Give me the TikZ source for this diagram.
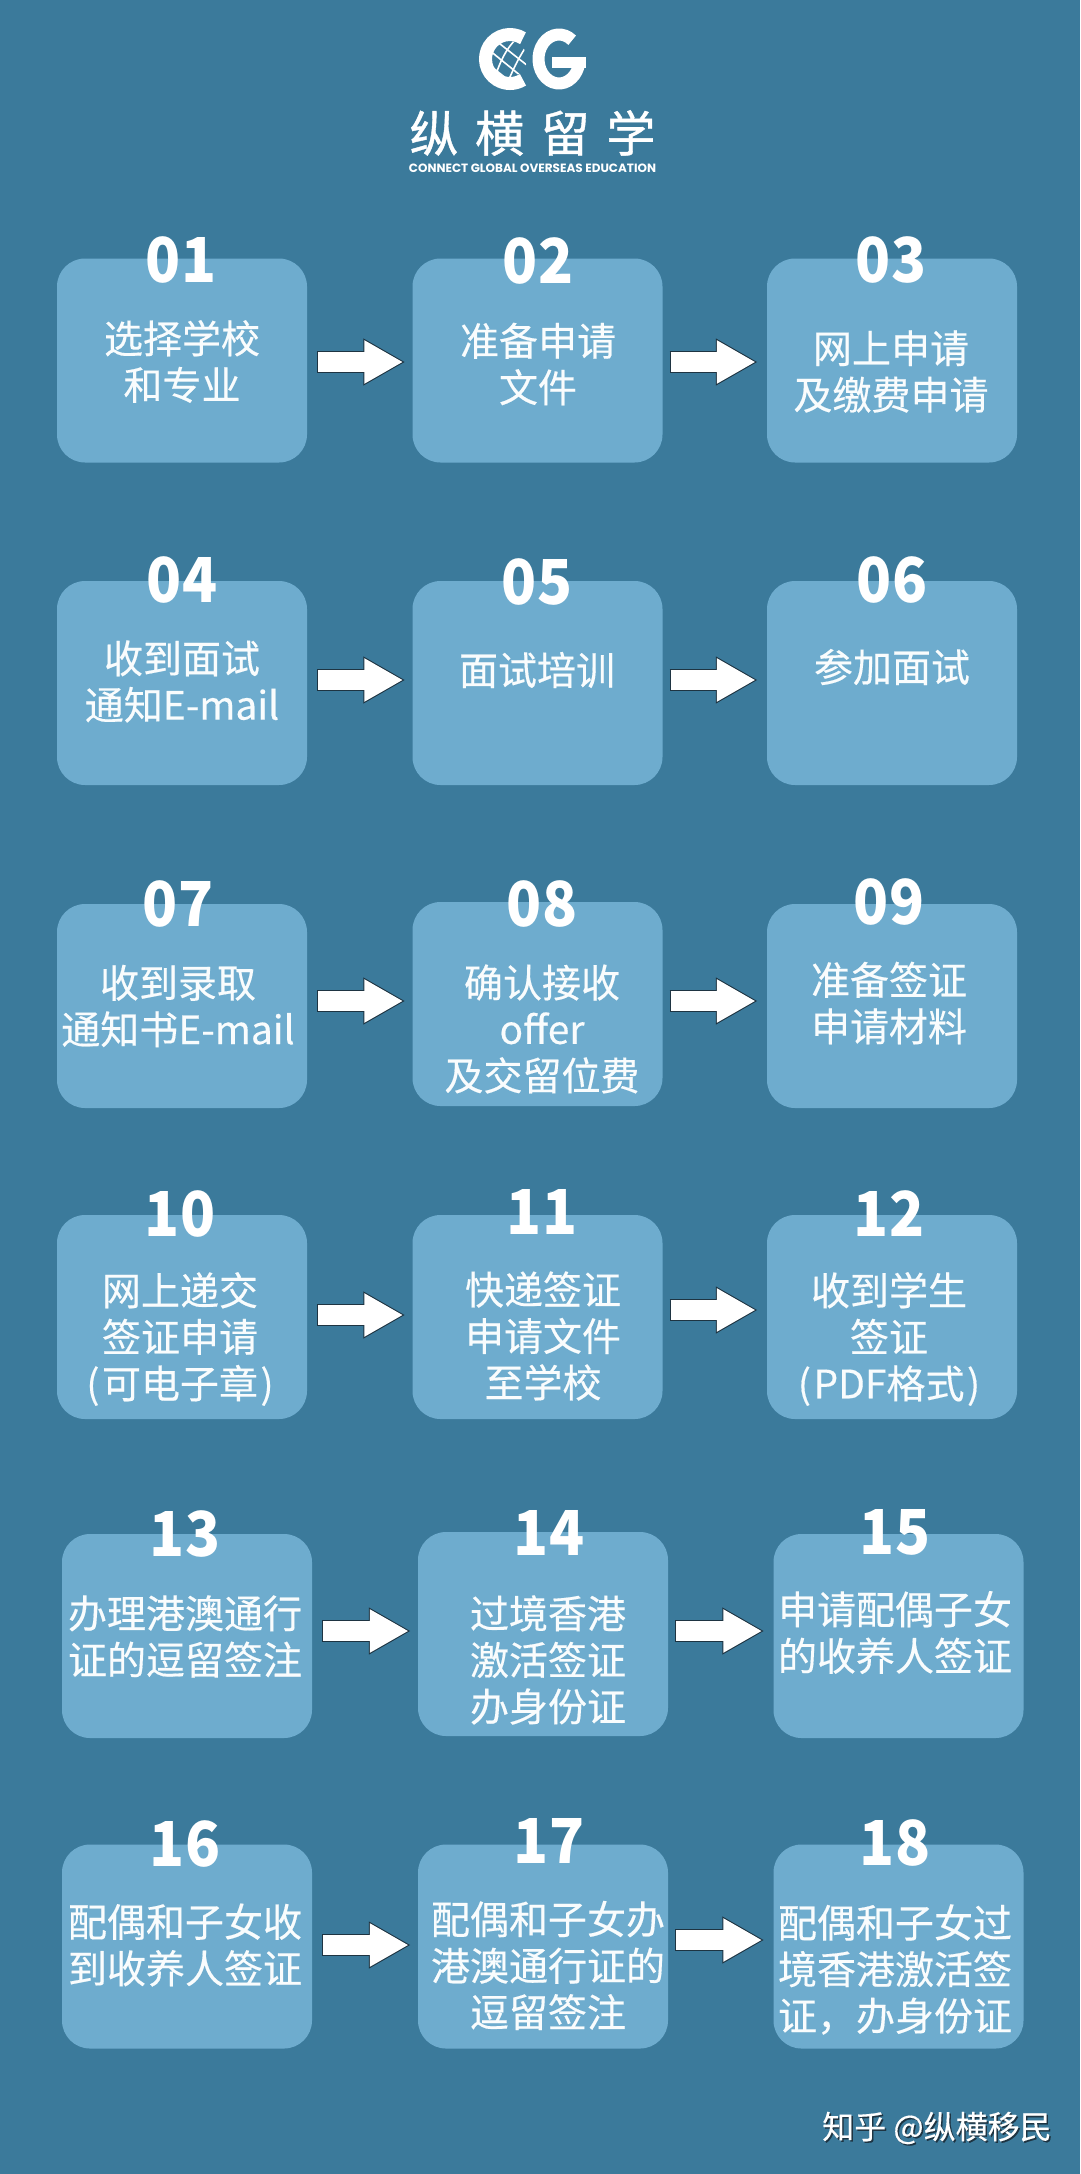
\documentclass[tikz,border=0pt]{standalone}
\usepackage{fontspec}
\usepackage{tikz}
\usetikzlibrary{arrows.meta}
\setmainfont{Noto Sans CJK SC}
\newfontfamily\latinfont{Poppins}
\newfontfamily\medfont[FakeBold=0.35]{Noto Sans CJK SC}
\newfontfamily\brandfont[FakeBold=0.8, LetterSpace=34]{Noto Sans CJK SC}
\definecolor{bgblue}{HTML}{3B7A9B}
\definecolor{boxblue}{HTML}{6EACCE}
\definecolor{arrowink}{HTML}{1E3442}
\begin{document}
\begin{tikzpicture}[x=1pt, y=-1pt]

\tikzstyle{every node} = [inner sep=0pt, text=white]
\tikzstyle{box} = [rectangle, fill=boxblue, rounded corners=28pt, minimum width=250pt, minimum height=204pt]
\tikzstyle{num} = [font=\fontsize{62}{62}\selectfont\bfseries\addfontfeature{FakeStretch=0.93}]
\tikzstyle{txt} = [align=center, text=white!96!boxblue, font=\medfont\fontsize{39}{46.5}\selectfont]
\tikzstyle{flow} = [draw=arrowink, line width=22pt, -{Triangle[length=42pt, width=44pt]}]
\tikzstyle{flowa} = [flow, shorten <=10pt, shorten >=7pt, postaction={draw=white, line width=20pt, shorten <=11pt, shorten >=9.2pt, -{Triangle[length=38.8pt, width=40.6pt]}}]
\tikzstyle{flowb} = [flow, shorten <=7pt, shorten >=9pt, postaction={draw=white, line width=20pt, shorten <=8pt, shorten >=11.2pt, -{Triangle[length=38.8pt, width=40.6pt]}}]

\fill[bgblue] (0,0) rectangle (1080,2174);
\useasboundingbox (0,0) rectangle (1080,2174);

\draw[white, line width=13pt] ([shift={(58:24.5pt)}]510,59) arc[start angle=58, end angle=302, radius=24.5pt];
\begin{scope}
\clip (509,59) circle[radius=18pt];
\draw[white, line width=1.6pt] (495,40) -- (528,66) (489,50) -- (521,76) (487,63) -- (513,84);
\draw[white, line width=1.6pt] (517,38) .. controls (505,50) and (500,62) .. (494,80) (528,44) .. controls (518,58) and (512,72) .. (507,84);
\end{scope}
\draw[white, line width=12pt] ([shift={(50:20.5pt and 24.5pt)}]559,59) arc[start angle=50, end angle=358, x radius=20.5pt, y radius=24.5pt];
\fill[white] (552,57) rectangle (585.5,68);

\node (brand) at (532.5,133) {\brandfont\fontsize{49}{49}\selectfont 纵横留学};
\node (slogan) at (532.5,168) {\latinfont\fontsize{12}{13}\selectfont\bfseries CONNECT GLOBAL OVERSEAS EDUCATION};

\node[box] (b01) at (182,360.5) {};
\node[box] (b02) at (537.5,360.5) {};
\node[box] (b03) at (892,360.5) {};
\node[box] (b04) at (182,683) {};
\node[box] (b05) at (537.5,683) {};
\node[box] (b06) at (892,683) {};
\node[box] (b07) at (182,1006) {};
\node[box] (b08) at (537.5,1004) {};
\node[box] (b09) at (892,1006) {};
\node[box] (b10) at (182,1317) {};
\node[box] (b11) at (537.5,1317) {};
\node[box] (b12) at (892,1317) {};
\node[box] (b13) at (187,1636) {};
\node[box] (b14) at (543,1634) {};
\node[box] (b15) at (898.5,1636) {};
\node[box] (b16) at (187,1946.5) {};
\node[box] (b17) at (543,1946.5) {};
\node[box] (b18) at (898.5,1946.5) {};

\node[num] (n01) at (181,260) {01};
\node[num] (n02) at (538,261) {02};
\node[num] (n03) at (891,260) {03};
\node[num] (n04) at (182,580) {04};
\node[num] (n05) at (537,582) {05};
\node[num] (n06) at (892,580) {06};
\node[num] (n07) at (178,904) {07};
\node[num] (n08) at (542,904) {08};
\node[num] (n09) at (889,902) {09};
\node[num] (n10) at (180,1214) {10};
\node[num] (n11) at (542,1212) {11};
\node[num] (n12) at (889,1214) {12};
\node[num] (n13) at (185,1534) {13};
\node[num] (n14) at (549,1533) {14};
\node[num] (n15) at (895,1532) {15};
\node[num] (n16) at (185,1844) {16};
\node[num] (n17) at (549,1841) {17};
\node[num] (n18) at (895,1843) {18};

\node[txt] (t01) at (182,361.5) {选择学校\\和专业};
\node[txt] (t02) at (538,364) {准备申请\\文件};
\node[txt] (t03) at (891,371.5) {网上申请\\及缴费申请};
\node[txt] (t04) at (182,681.5) {收到面试\\通知E-mail};
\node[txt] (t05) at (537,670) {面试培训};
\node[txt] (t06) at (892,667) {参加面试};
\node[txt] (t07) at (178,1006) {收到录取\\通知书E-mail};
\node[txt] (t08) at (542,1029) {确认接收\\offer\\及交留位费};
\node[txt] (t09) at (889,1003) {准备签证\\申请材料};
\node[txt] (t10) at (180,1339) {网上递交\\签证申请\\(\hspace{2.5pt}可电子章\hspace{2.5pt})};
\node[txt] (t11) at (543,1336) {快递签证\\申请文件\\至学校};
\node[txt] (t12) at (889,1339) {收到学生\\签证\\(\hspace{2.5pt}PDF格式\hspace{2.5pt})};
\node[txt] (t13) at (185,1636.5) {办理港澳通行\\证的逗留签注};
\node[txt] (t14) at (548,1660) {过境香港\\激活签证\\办身份证};
\node[txt] (t15) at (895,1632.5) {申请配偶子女\\的收养人签证};
\node[txt] (t16) at (185,1945) {配偶和子女收\\到收养人签证};
\node[txt] (t17) at (548,1965.5) {配偶和子女办\\港澳通行证的\\逗留签注};
\node[txt] (t18) at (895,1969.5) {配偶和子女过\\境香港激活签\\证，办身份证};

\node[text=arrowink] (shade) at (938.5,2129.5) {\medfont\fontsize{32}{32}\selectfont 知乎\ @纵横移民};
\node (mark) at (937,2128) {\medfont\fontsize{32}{32}\selectfont 知乎\ @纵横移民};

\draw[flowa] (b01.east |- 0,362) -- (b02.west |- 0,362);
\draw[flowb] (b02.east |- 0,362) -- (b03.west |- 0,362);
\draw[flowa] (b04.east |- 0,680) -- (b05.west |- 0,680);
\draw[flowb] (b05.east |- 0,680) -- (b06.west |- 0,680);
\draw[flowa] (b07.east |- 0,1001) -- (b08.west |- 0,1001);
\draw[flowb] (b08.east |- 0,1001) -- (b09.west |- 0,1001);
\draw[flowa] (b10.east |- 0,1315) -- (b11.west |- 0,1315);
\draw[flowb] (b11.east |- 0,1310) -- (b12.west |- 0,1310);
\draw[flowa] (b13.east |- 0,1631) -- (b14.west |- 0,1631);
\draw[flowb] (b14.east |- 0,1631) -- (b15.west |- 0,1631);
\draw[flowa] (b16.east |- 0,1945) -- (b17.west |- 0,1945);
\draw[flowb] (b17.east |- 0,1940) -- (b18.west |- 0,1940);

\end{tikzpicture}
\end{document}
